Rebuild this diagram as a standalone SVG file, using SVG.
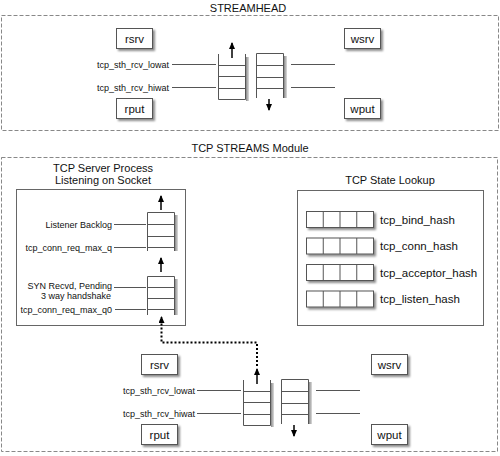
<svg xmlns="http://www.w3.org/2000/svg" width="500" height="456" viewBox="0 0 500 456">
<defs>
<style>
.t{font-family:"Liberation Sans",Arial,Helvetica,sans-serif;fill:#111}
.ti{font-size:11px;text-anchor:middle}
.lb{font-size:9px;text-anchor:end}
.bx{font-size:11.5px;text-anchor:middle}
.hl{font-size:11.5px}
.box{fill:#fff;stroke:#555;stroke-width:1}
.frame{fill:#fff;stroke:#666;stroke-width:1}
.dash{fill:none;stroke:#888;stroke-width:1;stroke-dasharray:4 2}
.q{fill:none;stroke:#555;stroke-width:1}
.qs{fill:url(#qsg)}
.ln{fill:none;stroke:#555;stroke-width:1}
.arr{fill:none;stroke:#000;stroke-width:1.5;marker-end:url(#ah)}
.dot{fill:none;stroke:#000;stroke-width:2;stroke-dasharray:2 2;marker-end:url(#ah)}
</style>
<marker id="ah" markerUnits="userSpaceOnUse" markerWidth="7" markerHeight="6" viewBox="0 0 7 6" refX="6" refY="3" orient="auto">
<path d="M0,0 L7,3 L0,6 z" fill="#000"/>
</marker>
<filter id="sh" x="-20%" y="-20%" width="150%" height="160%">
<feDropShadow dx="2" dy="2" stdDeviation="0.8" flood-color="#000" flood-opacity="0.45"/>
</filter>
<linearGradient id="qsg" x1="0" y1="0" x2="1" y2="0">
<stop offset="0" stop-color="#888"/>
<stop offset="1" stop-color="#ddd"/>
</linearGradient>
</defs>
<rect width="500" height="456" fill="#fff"/>

<!-- STREAMHEAD -->
<g id="streamhead">
<rect class="dash" x="1.5" y="15.5" width="497" height="115"/>
<text class="t ti" x="248" y="11.5">STREAMHEAD</text>
</g>
<g id="sh-rsrv"><rect class="box" filter="url(#sh)" x="116.5" y="28.5" width="36" height="20"/><text class="t bx" x="134.5" y="42.5">rsrv</text></g>
<g id="sh-rput"><rect class="box" filter="url(#sh)" x="116.5" y="98.5" width="36" height="20"/><text class="t bx" x="134.5" y="112.5">rput</text></g>
<g id="sh-wsrv"><rect class="box" filter="url(#sh)" x="344.5" y="28.5" width="36" height="20"/><text class="t bx" x="362.5" y="42.5">wsrv</text></g>
<g id="sh-wput"><rect class="box" filter="url(#sh)" x="344.5" y="98.5" width="36" height="20"/><text class="t bx" x="362.5" y="112.5">wput</text></g>
<g id="sh-readq">
<rect class="qs" x="246" y="57" width="3" height="44"/>
<path class="q" d="M218.5,54 V99.5 H245.5 V54 M218.5,65.5 H245.5 M218.5,76.5 H245.5 M218.5,88.5 H245.5"/>
</g>
<g id="sh-writeq">
<rect class="qs" x="284" y="56" width="3" height="42"/>
<path class="q" d="M256.5,98 V53.5 H283.5 V98 M256.5,65.5 H283.5 M256.5,77.5 H283.5 M256.5,88.5 H283.5"/>
</g>
<g id="sh-labels">
<text class="t lb" x="169" y="67.5">tcp_sth_rcv_lowat</text>
<text class="t lb" x="169" y="90.5">tcp_sth_rcv_hiwat</text>
</g>

<!-- TCP STREAMS Module -->
<g id="module">
<rect class="dash" x="1.5" y="157.5" width="496" height="294"/>
<text class="t ti" x="250" y="152">TCP STREAMS Module</text>
</g>
<g id="listener">
<rect class="frame" x="16.5" y="189.5" width="169" height="136"/>
<text class="t ti" x="103" y="172">TCP Server Process</text>
<text class="t ti" x="103" y="184">Listening on Socket</text>
<text class="t lb" x="112" y="227.5">Listener Backlog</text>
<text class="t lb" x="112" y="250.5">tcp_conn_req_max_q</text>
<text class="t lb" x="112" y="289">SYN Recvd, Pending</text>
<text class="t lb" x="111" y="298.5">3 way handshake</text>
<text class="t lb" x="112" y="312.5">tcp_conn_req_max_q0</text>
</g>
<g id="listen-q">
<rect class="qs" x="175" y="215" width="3" height="36"/>
<path class="q" d="M147.5,251 V212.5 H174.5 V251 M147.5,224.5 H174.5 M147.5,236.5 H174.5 M147.5,247.5 H174.5"/>
</g>
<g id="syn-q">
<rect class="qs" x="175" y="279" width="3" height="36"/>
<path class="q" d="M147.5,315 V276.5 H174.5 V315 M147.5,287.5 H174.5 M147.5,298.5 H174.5 M147.5,309.5 H174.5"/>
</g>
<g id="state-lookup">
<rect class="frame" x="297.5" y="190.5" width="186" height="135"/>
<text class="t ti" x="390" y="184">TCP State Lookup</text>
<g id="bind-hash"><g filter="url(#sh)"><rect class="box" x="306.5" y="211.5" width="67" height="16"/></g><path class="q" d="M323.25,211.5 V227.5 M340,211.5 V227.5 M356.75,211.5 V227.5"/><text class="t hl" x="380" y="223.5">tcp_bind_hash</text></g>
<g id="conn-hash"><g filter="url(#sh)"><rect class="box" x="306.5" y="238" width="67" height="16"/></g><path class="q" d="M323.25,238 V254 M340,238 V254 M356.75,238 V254"/><text class="t hl" x="380" y="250">tcp_conn_hash</text></g>
<g id="acceptor-hash"><g filter="url(#sh)"><rect class="box" x="306.5" y="264.5" width="67" height="16"/></g><path class="q" d="M323.25,264.5 V280.5 M340,264.5 V280.5 M356.75,264.5 V280.5"/><text class="t hl" x="380" y="276.5">tcp_acceptor_hash</text></g>
<g id="listen-hash"><g filter="url(#sh)"><rect class="box" x="306.5" y="291" width="67" height="16"/></g><path class="q" d="M323.25,291 V307 M340,291 V307 M356.75,291 V307"/><text class="t hl" x="380" y="303">tcp_listen_hash</text></g>
</g>
<g id="tcp-rsrv"><rect class="box" filter="url(#sh)" x="141.5" y="354.5" width="36" height="20"/><text class="t bx" x="159.5" y="368.5">rsrv</text></g>
<g id="tcp-rput"><rect class="box" filter="url(#sh)" x="141.5" y="424.5" width="36" height="20"/><text class="t bx" x="159.5" y="438.5">rput</text></g>
<g id="tcp-wsrv"><rect class="box" filter="url(#sh)" x="371.5" y="354.5" width="36" height="20"/><text class="t bx" x="389.5" y="368.5">wsrv</text></g>
<g id="tcp-wput"><rect class="box" filter="url(#sh)" x="371.5" y="424.5" width="36" height="20"/><text class="t bx" x="389.5" y="438.5">wput</text></g>
<g id="tcp-readq">
<rect class="qs" x="271" y="383" width="3" height="44"/>
<path class="q" d="M243.5,380 V425.5 H270.5 V380 M243.5,391.5 H270.5 M243.5,402.5 H270.5 M243.5,414.5 H270.5"/>
</g>
<g id="tcp-writeq">
<rect class="qs" x="309" y="382" width="3" height="42"/>
<path class="q" d="M281.5,424 V379.5 H308.5 V424 M281.5,391.5 H308.5 M281.5,403.5 H308.5 M281.5,414.5 H308.5"/>
</g>
<g id="tcp-labels">
<text class="t lb" x="195" y="393.5">tcp_sth_rcv_lowat</text>
<text class="t lb" x="195" y="416.5">tcp_sth_rcv_hiwat</text>
</g>

<!-- connectors -->
<g id="connectors">
<path class="ln" d="M172,64.5 H216 M172,87.5 H216 M291,64.5 H335 M291,87.5 H335"/>
<path class="ln" d="M114,224.5 H146 M114,247.5 H146 M114,287.5 H146 M115,309.5 H146"/>
<path class="ln" d="M197,390.5 H241 M197,413.5 H241 M316,390.5 H360 M316,413.5 H360"/>
<line class="arr" x1="232" y1="58" x2="232" y2="43"/>
<line class="arr" x1="269" y1="99" x2="269" y2="110"/>
<line class="arr" x1="161" y1="210" x2="161" y2="196"/>
<line class="arr" x1="161" y1="272" x2="161" y2="258"/>
<line class="arr" x1="257" y1="384" x2="257" y2="369"/>
<line class="arr" x1="294" y1="425" x2="294" y2="436"/>
<path class="dot" d="M257,366 V342.5 H161.5 V317"/>
</g>
</svg>
